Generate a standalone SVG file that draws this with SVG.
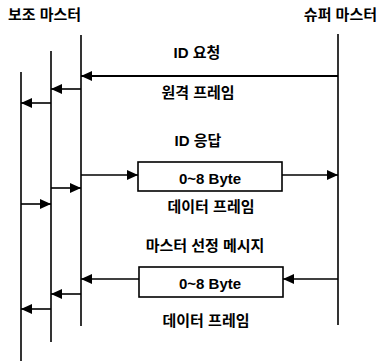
<svg xmlns="http://www.w3.org/2000/svg" width="382" height="362" viewBox="0 0 382 362">
<style>
text{font-family:"Liberation Sans","Noto Sans CJK KR",sans-serif;font-weight:bold;font-size:15px;fill:#000}
.lane{stroke:#000;stroke-width:1.6;fill:none}
.msg{stroke:#000;stroke-width:1.6;fill:none;marker-end:url(#ah)}
.box{stroke:#000;stroke-width:1.6;fill:#fff}
</style>
<defs>
<marker id="ah" markerUnits="userSpaceOnUse" markerWidth="11" markerHeight="10" refX="11" refY="5" orient="auto">
<path d="M0,0 L11,5 L0,10 z" fill="#000"/>
</marker>
</defs>
<rect width="382" height="362" fill="#fff"/>
<g id="sub-master">
<text x="8" y="20">보조 마스터</text>
<line class="lane" x1="21" y1="72" x2="21" y2="361"/>
<line class="lane" x1="51" y1="51" x2="51" y2="342"/>
<line class="lane" x1="81" y1="35" x2="81" y2="326"/>
</g>
<g id="super-master">
<text x="377" y="20" text-anchor="end">슈퍼 마스터</text>
<line class="lane" x1="338" y1="34" x2="338" y2="325"/>
</g>
<g id="frame1">
<rect class="box" x="138" y="162" width="144" height="29"/>
<text x="210" y="184" text-anchor="middle">0~8 Byte</text>
</g>
<g id="frame2">
<rect class="box" x="139" y="267" width="144" height="30"/>
<text x="210" y="289" text-anchor="middle">0~8 Byte</text>
</g>
<g id="labels">
<text x="197" y="58" text-anchor="middle">ID 요청</text>
<text x="198" y="98" text-anchor="middle">원격 프레임</text>
<text x="198" y="146" text-anchor="middle">ID 응답</text>
<text x="211" y="212" text-anchor="middle">데이터 프레임</text>
<text x="205" y="251" text-anchor="middle">마스터 선정 메시지</text>
<text x="206" y="326" text-anchor="middle">데이터 프레임</text>
</g>
<g id="connectors">
<line class="msg" x1="338" y1="76" x2="81" y2="76" style="stroke-width:2"/>
<line class="msg" x1="81" y1="89" x2="51" y2="89"/>
<line class="msg" x1="51" y1="103" x2="21" y2="103"/>
<line class="msg" x1="21" y1="204" x2="51" y2="204"/>
<line class="msg" x1="51" y1="188" x2="81" y2="188"/>
<line class="msg" x1="81" y1="175" x2="138" y2="175"/>
<line class="msg" x1="282" y1="175" x2="338" y2="175"/>
<line class="msg" x1="338" y1="279" x2="283" y2="279"/>
<line class="msg" x1="139" y1="279" x2="81" y2="279"/>
<line class="msg" x1="81" y1="294" x2="51" y2="294"/>
<line class="msg" x1="51" y1="309" x2="21" y2="309"/>
</g>
</svg>
